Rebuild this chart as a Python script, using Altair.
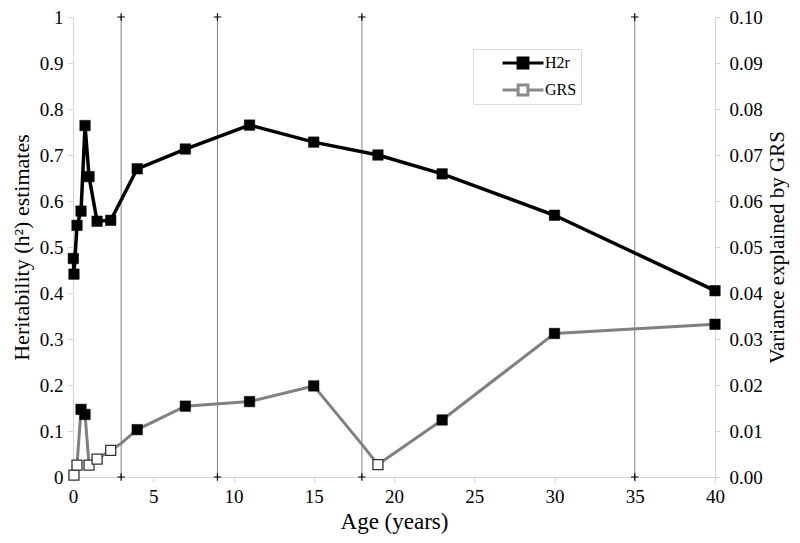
import altair as alt
import pandas as pd

# ---- data ----
h2r_age = [0.02, 0.06, 0.25, 0.5, 0.75, 1.0, 1.5, 2.35, 4, 7, 11, 15, 19, 23, 30, 40]
h2r_val = [0.475, 0.441, 0.547, 0.578, 0.764, 0.653, 0.556, 0.558, 0.670, 0.713,
           0.765, 0.728, 0.700, 0.659, 0.569, 0.405]

grs_age = [0.06, 0.25, 0.5, 0.75, 1.0, 1.5, 2.35, 3, 4, 7, 11, 15, 18, 19, 23, 30, 40]
grs_val = [0.0004, 0.0026, 0.0147, 0.0136, 0.0026, 0.0039, 0.0058, 0.0073, 0.0103,
           0.0154, 0.0164, 0.0198, 0.0071, 0.0027, 0.0124, 0.0312, 0.0332]
grs_marker = ["open", "open", "filled", "filled", "open", "open", "open", "none",
              "filled", "filled", "filled", "filled", "none", "open", "filled",
              "filled", "filled"]

divider_age = [3, 9, 18, 35]
x_ticks = [0, 5, 10, 15, 20, 25, 30, 35, 40]
left_ticks = [0, 0.1, 0.2, 0.3, 0.4, 0.5, 0.6, 0.7, 0.8, 0.9, 1.0]
right_ticks = [0.0, 0.01, 0.02, 0.03, 0.04, 0.05, 0.06, 0.07, 0.08, 0.09, 0.10]
series_names = ["H2r", "GRS"]

FONT = "Liberation Serif"
LIGHT = "#d4d4d4"
TICK_FS = 19

h2r = pd.DataFrame({"age": h2r_age, "h2": h2r_val})
grs = pd.DataFrame({"age": grs_age, "var": grs_val, "marker": grs_marker})
div = pd.DataFrame({"age": divider_age})
leg = pd.DataFrame({"series": series_names})

x_enc = alt.X(
    "age:Q",
    scale=alt.Scale(domain=[0, 40], nice=False, zero=False),
    axis=alt.Axis(values=x_ticks, title="Age (years)", grid=False, labelFlush=False,
                  domainColor=LIGHT, tickColor=LIGHT, tickSize=5,
                  labelFont=FONT, labelFontSize=TICK_FS, labelColor="black",
                  labelPadding=5, titleFont=FONT, titleFontSize=23,
                  titleFontWeight="normal", titleColor="black", titlePadding=4),
)

left_scale = alt.Scale(domain=[0, 1], nice=False, zero=False)
left_axis = alt.Axis(values=left_ticks, format=".1~f", orient="left", grid=False,
                     labelFlush=False, title="Heritability (h²) estimates",
                     domainColor=LIGHT, tickColor=LIGHT, tickSize=5,
                     labelFont=FONT, labelFontSize=TICK_FS, labelColor="black",
                     labelPadding=5, titleFont=FONT, titleFontSize=22,
                     titleFontWeight="normal", titleColor="black", titlePadding=6)

right_scale = alt.Scale(domain=[0, 0.1], nice=False, zero=False)
right_axis = alt.Axis(values=right_ticks, format=".2f", orient="right", grid=False,
                      labelFlush=False, title="Variance explained by GRS",
                      titleAngle=270, titleBaseline="top",
                      domainColor=LIGHT, tickColor=LIGHT, tickSize=5,
                      labelFont=FONT, labelFontSize=TICK_FS, labelColor="black",
                      labelPadding=9, titleFont=FONT, titleFontSize=21,
                      titleFontWeight="normal", titleColor="black", titlePadding=4)

y_left = alt.Y("h2:Q", scale=left_scale, axis=left_axis)
y_right = alt.Y("var:Q", scale=right_scale, axis=right_axis)

# vertical divider lines with "+" marks at the edges
rules = alt.Chart(div).mark_rule(color="#808080", strokeWidth=1).encode(x=x_enc)
cross_path = "M-1,0H1M0,-1V1"
cross_bottom = alt.Chart(div).mark_point(
    shape=cross_path, size=56, stroke="black", strokeWidth=1.2, filled=False, opacity=1
).encode(x=x_enc, y=alt.Y(datum=0, scale=left_scale, axis=left_axis))
cross_top = alt.Chart(div).mark_point(
    shape=cross_path, size=56, stroke="black", strokeWidth=1.2, filled=False, opacity=1
).encode(x=x_enc, y=alt.Y(datum=1, scale=left_scale, axis=left_axis))

h2r_line = alt.Chart(h2r).mark_line(color="black", strokeWidth=3.5).encode(x=x_enc, y=y_left)
h2r_pts = alt.Chart(h2r).mark_point(
    shape="square", filled=True, size=110, fill="black", stroke="black", strokeWidth=0.5, opacity=1
).encode(x=x_enc, y=y_left)

# legend (drawn by Vega's legend from the series names)
leg_path = "M-1,0H-0.24M0.24,0H1M-0.24,-0.24H0.24V0.24H-0.24Z"
legend_def = alt.Legend(
    title=None, orient="none", legendX=400, legendY=32,
    symbolType=leg_path, symbolSize=1681, symbolStrokeWidth=3,
    clipHeight=20, rowPadding=7, labelOffset=0, symbolOffset=24,
    labelFont=FONT, labelFontSize=16, labelColor="black",
    strokeColor="#dcdcdc", fillColor="white", padding=4,
)
legend_layer = alt.Chart(leg).transform_filter("false").mark_point(
    shape=leg_path, filled=True, strokeWidth=3, opacity=1
).encode(
    fill=alt.Fill("series:N", scale=alt.Scale(domain=series_names, range=["black", "white"]),
                  legend=legend_def),
    stroke=alt.Stroke("series:N", scale=alt.Scale(domain=series_names, range=["black", "#8a8a8a"]),
                      legend=legend_def),
)

grs_line = alt.Chart(grs).mark_line(color="#808080", strokeWidth=3).encode(x=x_enc, y=y_right)
grs_open = alt.Chart(grs).transform_filter(alt.datum.marker == "open").mark_point(
    shape="square", filled=True, size=100, fill="white", stroke="#333333", strokeWidth=1.3, opacity=1
).encode(x=x_enc, y=y_right)
grs_filled = alt.Chart(grs).transform_filter(alt.datum.marker == "filled").mark_point(
    shape="square", filled=True, size=110, fill="black", stroke="black", strokeWidth=0.5, opacity=1
).encode(x=x_enc, y=y_right)

left_group = alt.layer(rules, cross_bottom, cross_top, h2r_line, h2r_pts, legend_layer)
right_group = alt.layer(grs_line, grs_open, grs_filled)

chart = alt.layer(left_group, right_group).resolve_scale(y="independent").properties(
    width=642, height=460,
    autosize=alt.AutoSizeParams(type="none"),
    padding={"left": 65, "top": 9, "right": 77, "bottom": 58},
).configure_view(stroke=None)

chart.save("out.html", embed_options={"renderer": "svg", "actions": False})
